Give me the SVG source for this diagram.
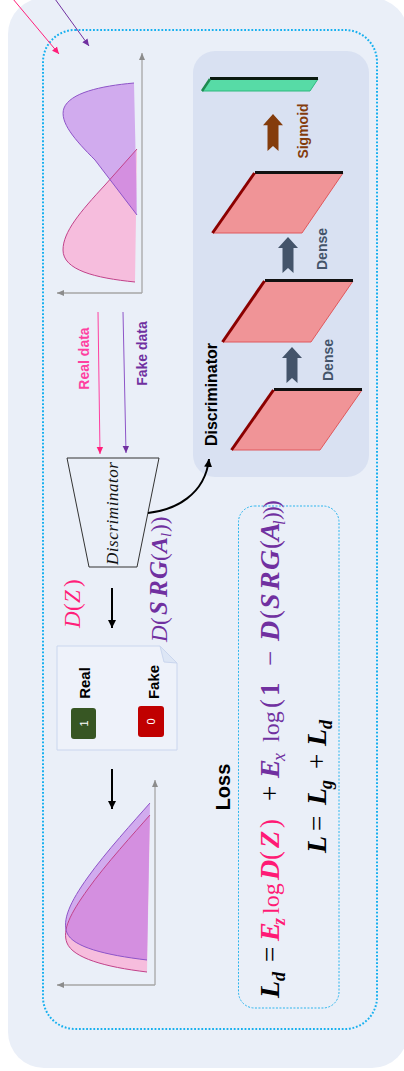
<svg xmlns="http://www.w3.org/2000/svg" width="404" height="1071" viewBox="0 0 404 1071">
  <style>
    .lbl { font-family: "Liberation Sans", Arial, sans-serif; font-weight: bold; text-anchor: middle; }
    .math { font-family: "Liberation Serif", "Times New Roman", serif; }
    .bi { font-weight: bold; font-style: italic; font-size: 28px; }
    .it { font-style: italic; }
    .sub { font-size: 18px; }
    .fn { font-size: 24px; }
    .axis { stroke: #a6a6a6; stroke-width: 1.3; fill: none; }
    .plane { fill: #f09497; stroke: #e0585c; stroke-width: 1; }
    .plane-top { stroke: #111; stroke-width: 3; }
    .plane-side { stroke: #8b0000; stroke-width: 3; }
    .dense-arrow { fill: #44546a; }
    .pk { fill: #ff1a75; }
    .pp { fill: #7030a0; }
  </style>
  <defs>
    <marker id="mk-pink" markerWidth="8" markerHeight="8" refX="7" refY="4" orient="auto" markerUnits="userSpaceOnUse">
      <path d="M0,0.8 L7,4 L0,7.2 Z" fill="#ff1f7a"/>
    </marker>
    <marker id="mk-purple" markerWidth="8" markerHeight="8" refX="7" refY="4" orient="auto" markerUnits="userSpaceOnUse">
      <path d="M0,0.8 L7,4 L0,7.2 Z" fill="#7030a0"/>
    </marker>
    <marker id="mk-black" markerWidth="10" markerHeight="10" refX="8" refY="5" orient="auto" markerUnits="userSpaceOnUse">
      <path d="M0,1 L8,5 L0,9 Z" fill="#000"/>
    </marker>
    <marker id="mk-gray" markerWidth="8" markerHeight="8" refX="7" refY="4" orient="auto" markerUnits="userSpaceOnUse">
      <path d="M0,1 L7,4 L0,7 Z" fill="#8c8c8c"/>
    </marker>
    <!-- upward block arrow with notched tail, tip at origin -->
    <path id="up-arrow" d="M0,0 L10,11 L5.5,11 L5.5,36 L0,31 L-5.5,36 L-5.5,11 L-10,11 Z"/>
    <clipPath id="clip-pink-top">
      <path d="M137,149 L105,185 C80,212 63,232 63,250 C63,270 95,278 135,282 Z"/>
    </clipPath>
    <clipPath id="clip-pink-bottom">
      <path d="M150,815 C135,832 105,865 88,889 C70,914 62,930 67,943 C73,958 105,967 147,972 Z"/>
    </clipPath>
  </defs>

  <!-- backdrop -->
  <rect x="8" y="-2" width="400" height="1070" rx="36" fill="#eaeff8"/>
  <rect x="43" y="30" width="334" height="999" rx="32" fill="none" stroke="#17b0ef" stroke-width="2" stroke-dasharray="1.8 1.8"/>

  <!-- input distributions -->
  <g id="dist-input">
    <path class="axis" d="M142,293 L142,53" marker-end="url(#mk-gray)"/>
    <path class="axis" d="M142,293 L57,293" marker-end="url(#mk-gray)"/>
    <path d="M137,149 L105,185 C80,212 63,232 63,250 C63,270 95,278 135,282 Z" fill="#f6bddd"/>
    <path d="M134,83 C100,86 70,93 64,108 C59,122 75,140 95,160 L137,215 Z" fill="#d1abee"/>
    <path d="M134,83 C100,86 70,93 64,108 C59,122 75,140 95,160 L137,215 Z" fill="#d48fe0" clip-path="url(#clip-pink-top)"/>
    <path d="M137,149 L105,185 C80,212 63,232 63,250 C63,270 95,278 135,282" fill="none" stroke="#c2428a" stroke-width="1"/>
    <path d="M134,83 C100,86 70,93 64,108 C59,122 75,140 95,160 L137,215" fill="none" stroke="#8e55c8" stroke-width="1"/>
  </g>

  <!-- data labels -->
  <g id="label-real-data">
    <text class="lbl" transform="translate(89,358.5) rotate(-90)" font-size="14" fill="#ff40a0">Real data</text>
  </g>
  <g id="label-fake-data">
    <text class="lbl" transform="translate(147,353.5) rotate(-90)" font-size="14" fill="#7030a0">Fake data</text>
  </g>

  <!-- discriminator block -->
  <g id="discriminator">
    <path d="M67,458 L159,458 L137,567 L89,567 Z" fill="none" stroke="#333" stroke-width="1"/>
    <text class="math it" transform="translate(118,513.5) rotate(-90)" font-size="17" text-anchor="middle" textLength="103" lengthAdjust="spacing" fill="#111">Discriminator</text>
  </g>

  <!-- discriminator outputs -->
  <g id="output-dz">
    <text class="math it" transform="translate(80,628) rotate(-90)" font-size="23" fill="#ff1f7a"><tspan x="0">D</tspan><tspan x="17" font-style="normal">(</tspan><tspan x="25">Z</tspan><tspan x="41" font-style="normal">)</tspan></text>
  </g>
  <g id="output-dsrg">
    <text class="math pp" transform="translate(167,642) rotate(-90)" font-size="23"><tspan x="0" font-style="italic">D</tspan><tspan x="17">(</tspan><tspan x="27" font-weight="bold" font-style="italic" font-size="25">S</tspan><tspan x="45" font-weight="bold" font-style="italic" font-size="25">R</tspan><tspan x="63" font-weight="bold" font-style="italic" font-size="25">G</tspan><tspan x="81">(</tspan><tspan x="89" font-weight="bold" font-style="italic" font-size="24">A</tspan><tspan x="105" class="it" font-size="15" dy="4">l</tspan><tspan x="110" dy="-4">))</tspan></text>
  </g>

  <!-- decision card -->
  <g id="decision">
    <path d="M57,646 L160,646 L177,663 L177,750 L57,750 Z" fill="#eef2fa" stroke="#cad6ee" stroke-width="1"/>
    <path d="M160,646 L164,662 L177,663 Z" fill="#dde6f5" stroke="#cad6ee" stroke-width="1"/>
    <text class="lbl" transform="translate(90,683) rotate(-90)" font-size="15" fill="#000">Real</text>
    <text class="lbl" transform="translate(159,682) rotate(-90)" font-size="15" fill="#000">Fake</text>
    <rect x="71" y="708" width="25" height="31" rx="3" fill="#375623"/>
    <text transform="translate(87.5,723.5) rotate(-90)" font-family="Liberation Sans, Arial, sans-serif" font-size="11" text-anchor="middle" fill="#fff">1</text>
    <rect x="138" y="706" width="26" height="31" rx="3" fill="#c00000"/>
    <text transform="translate(155,721.5) rotate(-90)" font-family="Liberation Sans, Arial, sans-serif" font-size="11" text-anchor="middle" fill="#fff">0</text>
  </g>

  <!-- learned distributions -->
  <g id="dist-output">
    <path class="axis" d="M155,985 L155,780" marker-end="url(#mk-gray)"/>
    <path class="axis" d="M155,985 L57,985" marker-end="url(#mk-gray)"/>
    <path d="M150,815 C135,832 105,865 88,889 C70,914 62,930 67,943 C73,958 105,967 147,972 Z" fill="#f6bddd"/>
    <path d="M150,803 C135,820 105,853 88,877 C70,902 62,920 67,933 C73,947 105,955 147,960 Z" fill="#d1abee"/>
    <path d="M150,803 C135,820 105,853 88,877 C70,902 62,920 67,933 C73,947 105,955 147,960 Z" fill="#d48fe0" clip-path="url(#clip-pink-bottom)"/>
    <path d="M150,815 C135,832 105,865 88,889 C70,914 62,930 67,943 C73,958 105,967 147,972" fill="none" stroke="#c2428a" stroke-width="1"/>
    <path d="M150,803 C135,820 105,853 88,877 C70,902 62,920 67,933 C73,947 105,955 147,960" fill="none" stroke="#8e55c8" stroke-width="1"/>
  </g>

  <!-- discriminator architecture panel -->
  <g id="disc-panel">
    <rect x="193" y="51" width="176" height="426" rx="22" fill="#d9e1f2"/>
    <text class="lbl" transform="translate(217,394.5) rotate(-90)" font-size="16" fill="#000">Discriminator</text>
    <!-- output unit -->
    <polygon points="210,79 318,79 310,91 202,91" fill="#57dba6" stroke="#2fb97f" stroke-width="1"/>
    <line x1="210" y1="78.5" x2="318" y2="78.5" stroke="#0b1a10" stroke-width="3"/>
    <line x1="210" y1="79" x2="202" y2="91" stroke="#1e8a50" stroke-width="2.5"/>
    <!-- dense layers -->
    <polygon class="plane" points="255,173 343,173 302,233 213,233"/>
    <line class="plane-top" x1="255" y1="172.5" x2="343" y2="172.5"/>
    <line class="plane-side" x1="254.5" y1="173" x2="212.5" y2="233"/>
    <polygon class="plane" points="265,281 353,281 311,342 223,342"/>
    <line class="plane-top" x1="265" y1="280.5" x2="353" y2="280.5"/>
    <line class="plane-side" x1="264.5" y1="281" x2="222.5" y2="342"/>
    <polygon class="plane" points="274,390 362,390 320,450 232,450"/>
    <line class="plane-top" x1="274" y1="389.5" x2="362" y2="389.5"/>
    <line class="plane-side" x1="273.5" y1="390" x2="231.5" y2="450"/>
    <!-- transitions -->
    <use href="#up-arrow" transform="translate(273,114) scale(1,1.03)" fill="#843c0c"/>
    <use href="#up-arrow" transform="translate(288,237)" class="dense-arrow"/>
    <use href="#up-arrow" transform="translate(292,347)" class="dense-arrow"/>
    <text class="lbl" transform="translate(307.5,131) rotate(-90)" font-size="14" fill="#843c0c">Sigmoid</text>
    <text class="lbl" transform="translate(327,249) rotate(-90)" font-size="14" fill="#44546a">Dense</text>
    <text class="lbl" transform="translate(333,360) rotate(-90)" font-size="14" fill="#44546a">Dense</text>
  </g>

  <!-- loss -->
  <g id="loss">
    <text class="lbl" transform="translate(230,787) rotate(-90)" font-size="20" fill="#000">Loss</text>
    <rect x="238.5" y="506" width="100.5" height="502" rx="16" fill="none" stroke="#2cb5ee" stroke-width="1" stroke-dasharray="2 1.5"/>
    <text class="math" transform="translate(279,1000) rotate(-90)" font-size="27" fill="#000">
      <tspan x="2" class="bi">L</tspan><tspan x="19" class="bi sub" dy="6">d</tspan><tspan x="38" dy="-6">=</tspan>
      <tspan x="59" class="bi pk">E</tspan><tspan x="75" class="bi sub pk" dy="6">z</tspan><tspan x="86" dy="-6" class="fn pk">log</tspan><tspan x="120" class="bi pk">D</tspan><tspan x="140" class="pk">(</tspan><tspan x="152" class="bi pk">Z</tspan><tspan x="172" class="pk">)</tspan>
      <tspan x="199">+</tspan>
      <tspan x="222" class="bi pp">E</tspan><tspan x="239" class="it sub pp" dy="6">x</tspan><tspan x="258" dy="-6" class="fn pp">log</tspan><tspan x="292" class="pp">(</tspan><tspan x="304" font-weight="bold" class="pp">1</tspan><tspan x="334" class="pp">−</tspan><tspan x="359" class="bi pp">D</tspan><tspan x="381" class="pp">(</tspan><tspan x="391" class="bi pp">S</tspan><tspan x="410" class="bi pp">R</tspan><tspan x="430" class="bi pp">G</tspan><tspan x="451" class="pp">(</tspan><tspan x="459" class="bi pp">A</tspan><tspan x="475" class="it pp" font-size="17" dy="6">l</tspan><tspan x="480" dy="-6" font-size="23" class="pp">)</tspan><tspan x="486" font-size="23" class="pp">)</tspan><tspan x="492" font-size="23" class="pp">)</tspan>
    </text>
    <text class="math" transform="translate(326,855) rotate(-90)" font-size="27" fill="#000">
      <tspan x="2" class="bi">L</tspan><tspan x="24">=</tspan><tspan x="50" class="bi">L</tspan><tspan x="66" class="bi sub" dy="6">g</tspan><tspan x="86" dy="-6">+</tspan><tspan x="109" class="bi">L</tspan><tspan x="126" class="bi sub" dy="6">d</tspan>
    </text>
  </g>

  <!-- connectors -->
  <g id="connectors" fill="none">
    <line x1="13" y1="-1" x2="59" y2="54" stroke="#ff1f7a" stroke-width="1" marker-end="url(#mk-pink)"/>
    <line x1="55" y1="-1" x2="89" y2="46" stroke="#7030a0" stroke-width="1" marker-end="url(#mk-purple)"/>
    <line x1="98" y1="312" x2="100" y2="454" stroke="#ff40a0" stroke-width="1" marker-end="url(#mk-pink)"/>
    <line x1="123" y1="312" x2="126" y2="453" stroke="#8e55c8" stroke-width="1" marker-end="url(#mk-purple)"/>
    <path d="M148,513 C175,510 205,495 209,459" stroke="#000" stroke-width="2" marker-end="url(#mk-black)"/>
    <line x1="112" y1="588" x2="112" y2="628" stroke="#000" stroke-width="2" marker-end="url(#mk-black)"/>
    <line x1="112" y1="769" x2="112" y2="809" stroke="#000" stroke-width="2" marker-end="url(#mk-black)"/>
  </g>
</svg>
